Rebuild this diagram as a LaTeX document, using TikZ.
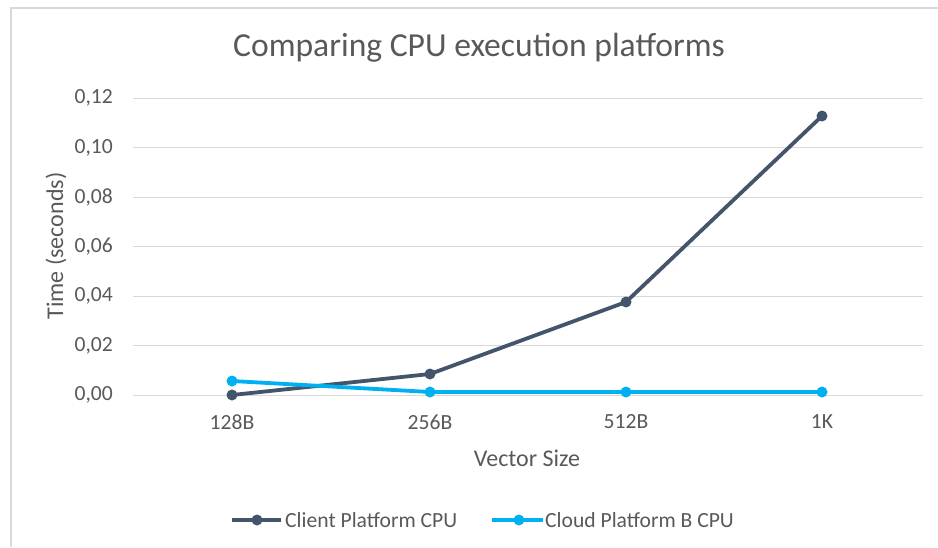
\documentclass[tikz,border=0pt]{standalone}
\usepackage{fontspec}
\setmainfont{Carlito}
\definecolor{clientc}{HTML}{44546A}
\definecolor{cloudc}{HTML}{00B0F0}
\definecolor{gridc}{HTML}{D9D9D9}
\definecolor{txtc}{HTML}{595959}
\begin{document}
\begin{tikzpicture}[x=1pt,y=-1pt,
  gridline/.style={draw=gridc, line width=1pt},
  ticklab/.style={text=txtc, font=\fontsize{21.6}{24}\selectfont, inner sep=0pt},
  axlab/.style={text=txtc, font=\fontsize{24}{27}\selectfont, inner sep=0pt},
  series/.style={line width=3.8pt, line join=round},
  mk/.style={circle, inner sep=0pt, minimum size=11pt},
  clientmk/.style={mk, fill=clientc},
  cloudmk/.style={mk, fill=cloudc}]
\useasboundingbox (0,0) rectangle (938,547);
% frame
\draw[draw=gridc, line width=1.5pt] (11,547) -- (11,8) -- (938,8);
% title
\node[text=txtc, font=\fontsize{33.6}{38}\selectfont, inner sep=0pt] (title) at (479,48) {Comparing CPU execution platforms};
% gridlines and y tick labels
\foreach \yy/\lab/\nm in {395/{0,00}/g0, 345.5/{0,02}/g1, 296/{0,04}/g2, 246.5/{0,06}/g3, 197/{0,08}/g4, 147.5/{0,10}/g5, 98/{0,12}/g6}{
  \draw[gridline] (133,\yy) -- (923,\yy);
  \node[ticklab, anchor=east] (\nm) at (113,\yy) {\lab};
}
% x tick labels
\node[ticklab] (x1) at (232,422) {128B};
\node[ticklab] (x2) at (430,422) {256B};
\node[ticklab] (x3) at (626,422) {512B};
\node[ticklab] (x4) at (822,422) {1K};
% axis titles
\node[axlab] (xt) at (527,458) {Vector Size};
\node[axlab, rotate=90] (yt) at (56,246) {Time (seconds)};
% client series
\node[clientmk] (c1) at (232,395) {};
\node[clientmk] (c2) at (430,374) {};
\node[clientmk] (c3) at (626,302) {};
\node[clientmk] (c4) at (822,116) {};
\draw[series, clientc] (c1.center) -- (c2.center) -- (c3.center) -- (c4.center);
% cloud series
\node[cloudmk] (d1) at (232,381) {};
\node[cloudmk] (d2) at (430,392) {};
\node[cloudmk] (d3) at (626,392) {};
\node[cloudmk] (d4) at (822,392) {};
\draw[series, cloudc] (d1.center) -- (d2.center) -- (d3.center) -- (d4.center);
% legend
\coordinate (la) at (232,520);
\coordinate (lb) at (281,520);
\draw[series, clientc] (la) -- (lb);
\node[clientmk] (lm1) at (257,520) {};
\node[ticklab, anchor=west] (lt1) at (285,520) {Client Platform CPU};
\coordinate (lc) at (492,520);
\coordinate (ld) at (543,520);
\draw[series, cloudc] (lc) -- (ld);
\node[cloudmk] (lm2) at (519,520) {};
\node[ticklab, anchor=west] (lt2) at (545,520) {Cloud Platform B CPU};
\end{tikzpicture}
\end{document}
